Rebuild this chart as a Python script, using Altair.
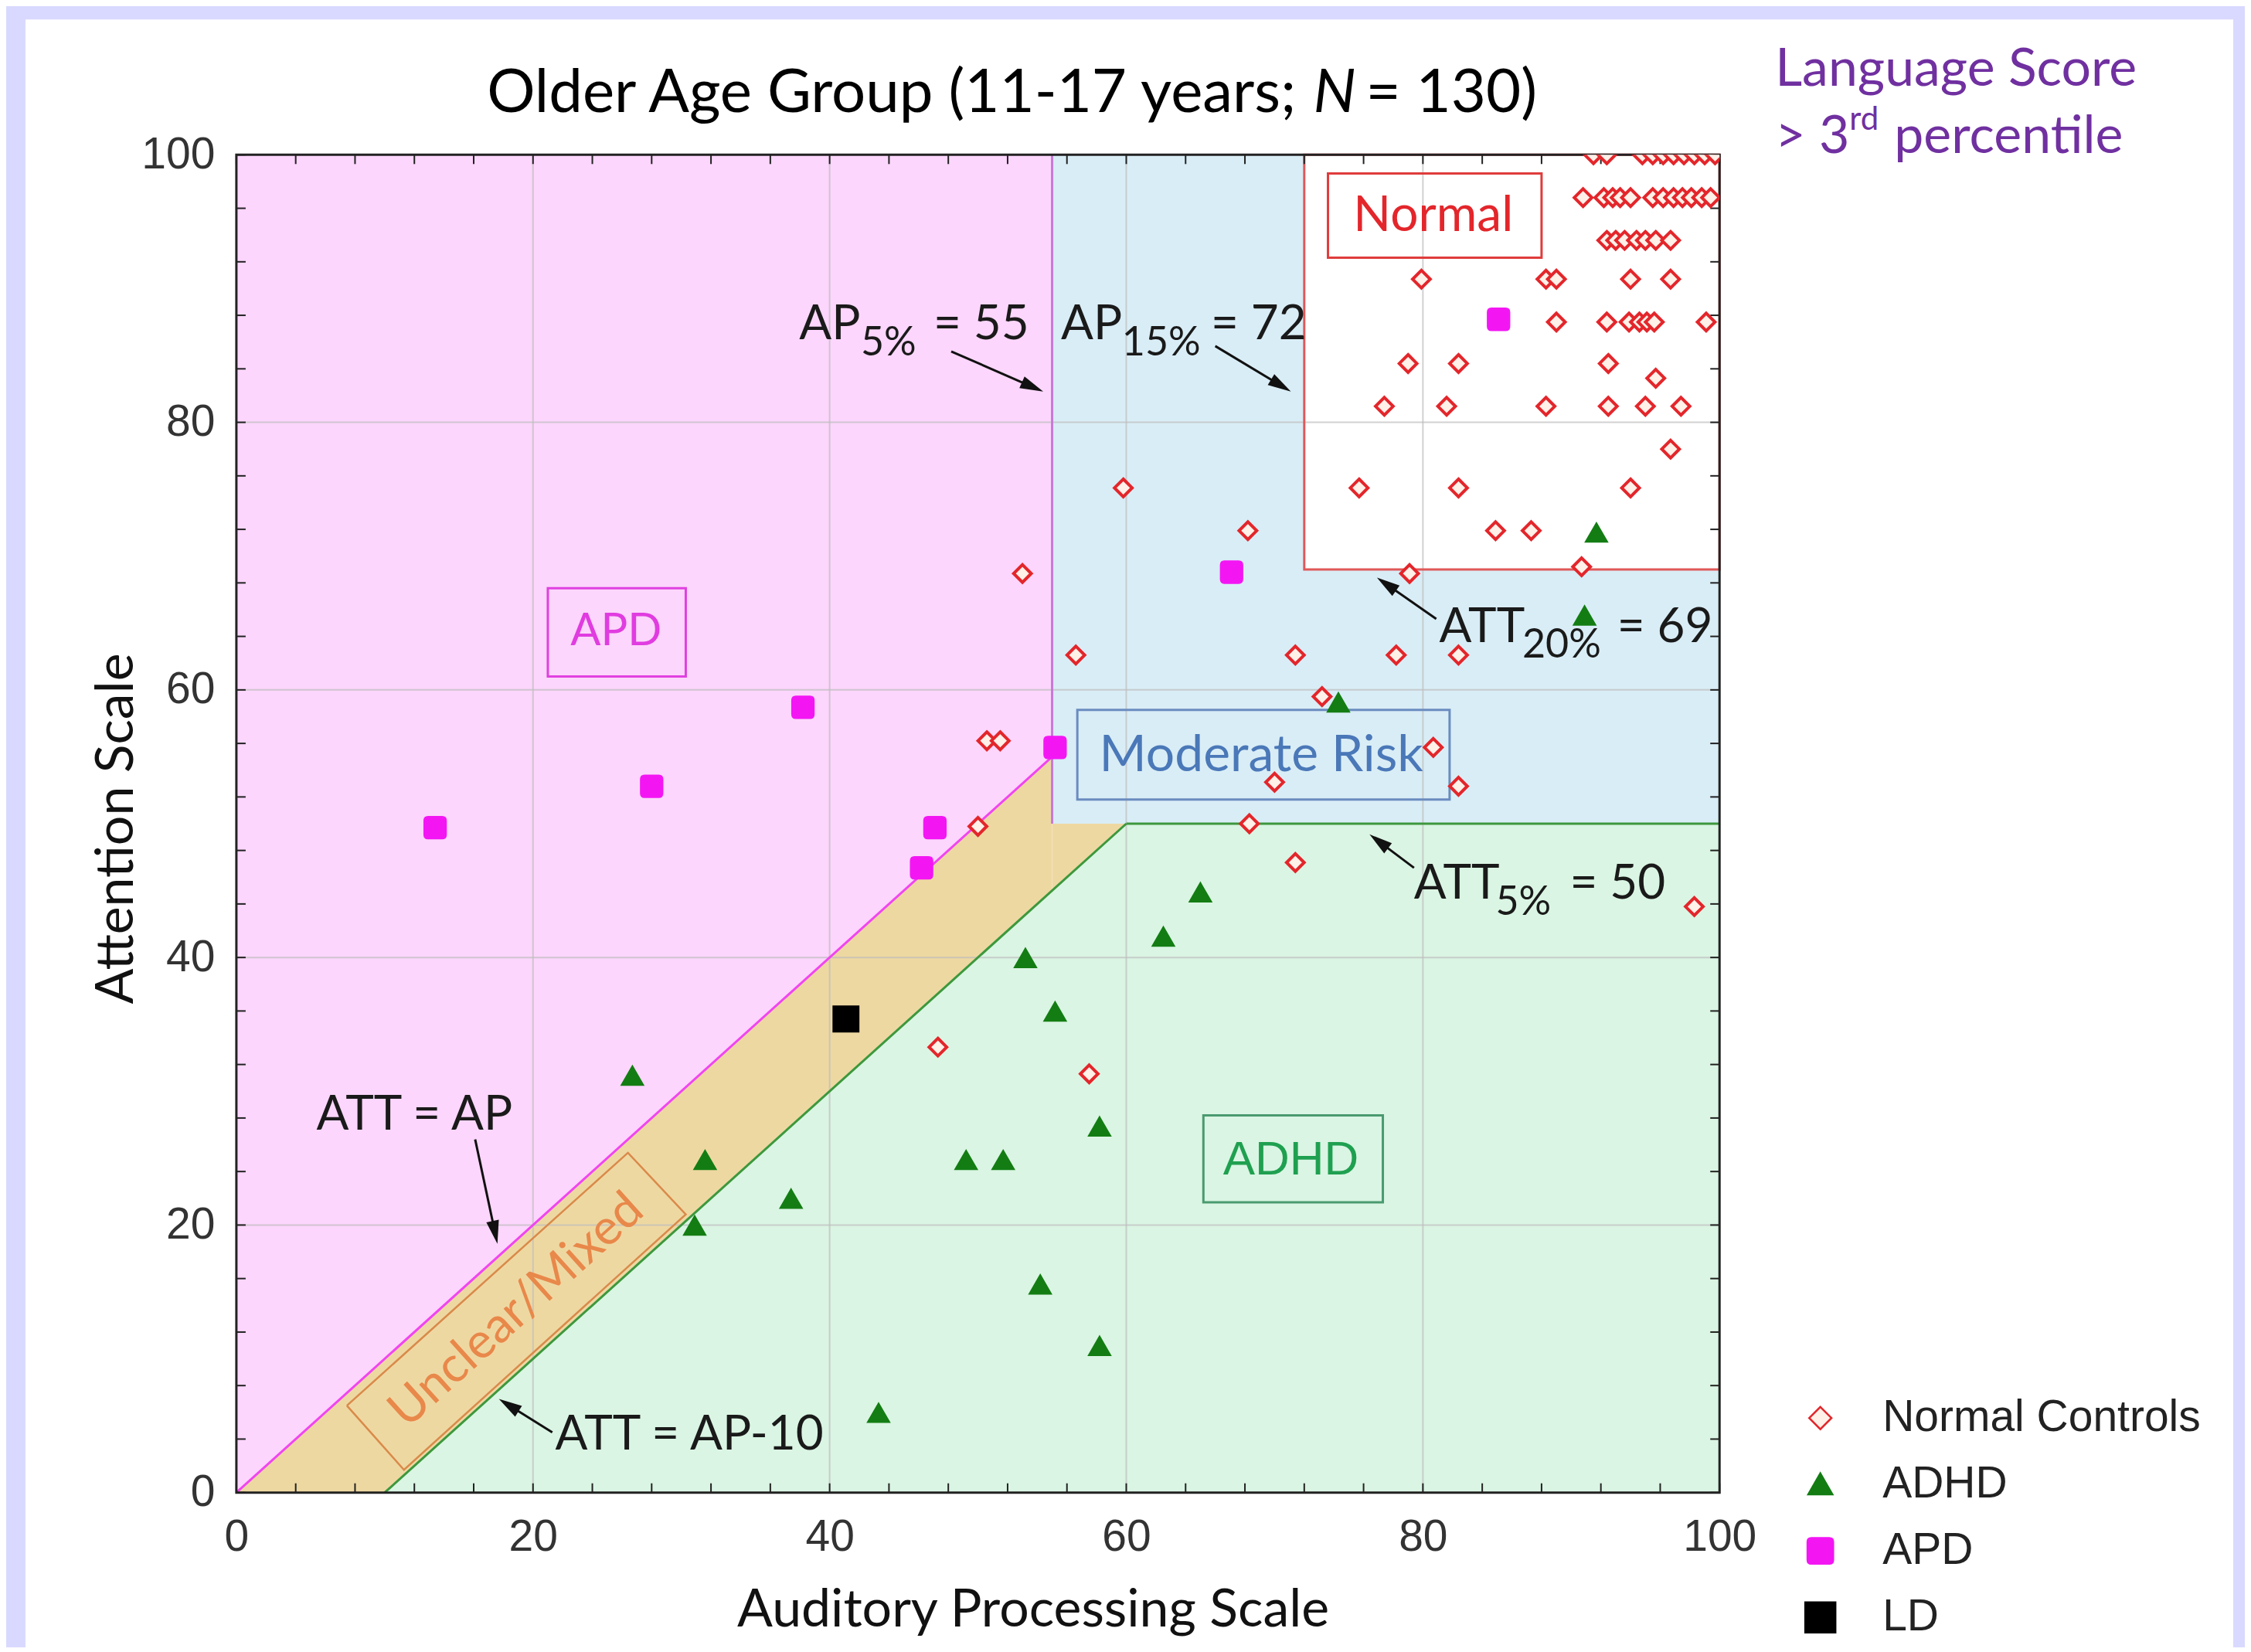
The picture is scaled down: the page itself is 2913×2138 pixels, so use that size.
import math
import altair as alt
import pandas as pd

W, H = 1920, 1732
PX = W / 100.0
PY = H / 100.0

# ---------------- data ----------------
groups = ["Normal Controls", "ADHD", "APD", "LD"]

normal_x = [91.5, 92.4, 94.8, 95.5, 96.2, 96.9, 97.6, 98.3, 99.0, 99.7,
            90.8, 92.2, 92.8, 93.3, 94.0, 95.5, 96.2, 96.9, 97.5, 98.1, 98.8, 99.4,
            92.4, 93.0, 93.6, 94.4, 95.0, 95.7, 96.7,
            79.9, 88.3, 89.0, 94.0, 96.7,
            89.0, 92.4, 93.9, 94.6, 95.1, 95.6, 99.1,
            79.0, 82.4, 92.5,
            95.7,
            77.4, 81.6, 88.3, 92.5, 95.0, 97.4,
            96.7,
            75.7, 82.4, 94.0,
            84.9, 87.3,
            90.7, 79.1,
            59.8, 68.2, 53.0, 56.6, 71.4, 78.2, 82.4, 73.2, 50.6, 51.5,
            80.7, 70.0, 82.4, 50.0, 68.3, 71.4, 98.3, 47.3, 57.5]
normal_y = [100, 100, 100, 100, 100, 100, 100, 100, 100, 100,
            96.8, 96.8, 96.8, 96.8, 96.8, 96.8, 96.8, 96.8, 96.8, 96.8, 96.8, 96.8,
            93.6, 93.6, 93.6, 93.6, 93.6, 93.6, 93.6,
            90.7, 90.7, 90.7, 90.7, 90.7,
            87.5, 87.5, 87.5, 87.5, 87.5, 87.5, 87.5,
            84.4, 84.4, 84.4,
            83.3,
            81.2, 81.2, 81.2, 81.2, 81.2, 81.2,
            78.0,
            75.1, 75.1, 75.1,
            71.9, 71.9,
            69.2, 68.7,
            75.1, 71.9, 68.7, 62.6, 62.6, 62.6, 62.6, 59.5, 56.2, 56.2,
            55.7, 53.1, 52.8, 49.8, 50.0, 47.1, 43.8, 33.3, 31.3]

adhd_x = [91.7, 90.9, 74.3, 65.0, 62.5, 53.2, 55.2, 58.2, 26.7, 31.6, 49.2,
          51.7, 37.4, 30.9, 54.2, 58.2, 43.3]
adhd_y = [71.7, 65.5, 59.0, 44.8, 41.5, 39.9, 35.9, 27.3, 31.1, 24.8, 24.8,
          24.8, 21.9, 19.9, 15.5, 10.9, 5.9]

apd_x = [13.4, 28.0, 38.2, 47.1, 46.2, 55.2, 67.1, 85.1]
apd_y = [49.7, 52.8, 58.7, 49.7, 46.7, 55.7, 68.8, 87.7]

ld_x = [41.1]
ld_y = [35.4]

# region boundaries (AP / ATT cut-offs)
ap5, ap15, att5, att20 = 55, 72, 50, 69

axis_labels = [0, 20, 40, 60, 80, 100]
grid_vals = [20, 40, 60, 80]
tick_vals = [0, 4, 8, 12, 16, 20, 24, 28, 32, 36, 40, 44, 48, 52, 56, 60,
             64, 68, 72, 76, 80, 84, 88, 92, 96, 100]

# annotations (data coordinates)
lab_main_text = ["AP", "= 55", "AP", "= 72", "ATT", "= 69", "ATT", "= 50",
                 "ATT = AP", "ATT = AP-10"]
lab_main_x = [37.95, 47.0, 55.6, 65.7, 81.1, 93.1, 79.4, 89.9, 5.4, 21.5]
lab_main_y = [86.2, 86.2, 86.2, 86.2, 63.6, 63.6, 44.4, 44.4, 27.1, 3.2]
lab_sub_text = ["5%", "15%", "20%", "5%"]
lab_sub_x = [42.1, 59.7, 86.7, 84.9]
lab_sub_y = [85.0, 85.0, 62.4, 43.2]

arr_x0 = [48.2, 66.0, 80.9, 79.4, 16.1, 21.3]
arr_y0 = [85.3, 85.7, 65.3, 46.7, 26.4, 4.5]
arr_x1 = [54.4, 71.1, 76.9, 76.4, 17.6, 17.7]
arr_y1 = [82.3, 82.3, 68.4, 49.2, 18.6, 7.0]

unclear_x = [7.45, 11.3, 30.3, 26.4, 7.45]
unclear_y = [6.5, 1.7, 20.8, 25.4, 6.5]

# ---------------- helpers ----------------
xs = alt.Scale(domain=[0, 100], nice=False, zero=False)
ys = alt.Scale(domain=[0, 100], nice=False, zero=False)
xaxis = alt.Axis(values=axis_labels, title="Auditory Processing Scale", grid=False,
                 domain=False, ticks=False, tickSize=0, labelFlush=False,
                 labelOverlap=False, labelFont="Liberation Sans", labelFontSize=57,
                 labelColor="#333333", labelPadding=30, titleFont="Lato",
                 titleFontSize=68, titleFontWeight="normal", titleColor="#111111",
                 titleX=1031, titleY=173, titleAlign="center", titleBaseline="alphabetic")
yaxis = alt.Axis(values=axis_labels, title="Attention Scale", grid=False,
                 domain=False, ticks=False, tickSize=0, labelFlush=False,
                 labelOverlap=False, labelFont="Liberation Sans", labelFontSize=57,
                 labelColor="#333333", labelPadding=28, titleFont="Lato",
                 titleFontSize=68, titleFontWeight="normal", titleColor="#111111",
                 titleX=-134, titleY=872, titleAlign="center", titleBaseline="alphabetic")


def X(f):
    return alt.X(f"{f}:Q", scale=xs, axis=xaxis)


def Y(f):
    return alt.Y(f"{f}:Q", scale=ys, axis=yaxis)


one = pd.DataFrame({"a": [0]})
layers = []

# lavender frame strips around the white panel
LAV = "#d9d9ff"
for x0, x1, y0, y1 in [(-320, 2620, -220, -175), (-320, -273, -220, 1950), (2585, 2620, -220, 1950)]:
    layers.append(alt.Chart(one).mark_rect(color=LAV).encode(
        x=alt.value(x0), x2=alt.value(x1), y=alt.value(y0), y2=alt.value(y1)))

# shaded regions (x-monotone pieces)
pink = pd.DataFrame({"x": [0, ap5], "lo": [0, ap5], "hi": [100, 100]})
tan_a = pd.DataFrame({"x": [0, 10, ap5], "lo": [0, 0, 45], "hi": [0, 10, ap5]})
tan_b = pd.DataFrame({"x": [ap5, 60], "lo": [45, att5], "hi": [att5, att5]})
green = pd.DataFrame({"x": [10, 60, 100], "lo": [0, 0, 0], "hi": [0, att5, att5]})
for df, col in [(pink, "#fcd6fc"), (tan_a, "#eed8a2"), (tan_b, "#eed8a2"), (green, "#daf5e3")]:
    layers.append(alt.Chart(df).mark_area(color=col, opacity=1, orient="vertical").encode(
        x=X("x"), y=Y("lo"), y2=alt.Y2("hi")))

rects = pd.DataFrame({"x": [ap5, ap15], "x2": [100, 100], "y": [att5, att20],
                      "y2": [100, 100], "col": ["#d9edf6", "#ffffff"]})
layers.append(alt.Chart(rects).mark_rect(opacity=1).encode(
    x=X("x"), x2="x2", y=Y("y"), y2="y2", color=alt.Color("col:N", scale=None)))

# gridlines
gdf = pd.DataFrame({"v": grid_vals})
layers.append(alt.Chart(gdf).mark_rule(color="#bdbdbd", strokeWidth=2, opacity=0.7).encode(
    x=X("v"), y=alt.value(0), y2=alt.value(H)))
layers.append(alt.Chart(gdf).mark_rule(color="#bdbdbd", strokeWidth=2, opacity=0.7).encode(
    y=Y("v"), x=alt.value(0), x2=alt.value(W)))

# boundary lines
segs = pd.DataFrame({"x": [0, ap5, 10, 60], "y": [0, att5, 0, att5],
                     "x2": [ap5, ap5, 60, 100], "y2": [ap5, 100, att5, att5],
                     "col": ["#f045f0", "#c57ad8", "#3d983d", "#3d983d"]})
layers.append(alt.Chart(segs).mark_rule(strokeWidth=3).encode(
    x=X("x"), y=Y("y"), x2="x2", y2="y2", color=alt.Color("col:N", scale=None)))

# label boxes
boxes = pd.DataFrame({"x": [72, 21.0, 73.6, 56.7, 65.2],
                      "x2": [100, 30.3, 88.0, 81.8, 77.3],
                      "y": [69, 61.0, 92.3, 51.8, 21.7],
                      "y2": [100, 67.6, 98.6, 58.5, 28.2],
                      "col": ["#e05858", "#e040e0", "#e03c3c", "#6a8cc0", "#4a9a70"]})
layers.append(alt.Chart(boxes).mark_rect(filled=False, strokeWidth=3).encode(
    x=X("x"), x2="x2", y=Y("y"), y2="y2", color=alt.Color("col:N", scale=None)))

udf = pd.DataFrame({"x": unclear_x, "y": unclear_y, "i": list(range(len(unclear_x)))})
layers.append(alt.Chart(udf).mark_line(color="#d98a4a", strokeWidth=2.5).encode(
    x=X("x"), y=Y("y"), order=alt.Order("i:Q")))


# box labels
def box_label(txt, x, y, col, fs, font="Lato", angle=0):
    d = pd.DataFrame({"t": [txt], "x": [x], "y": [y]})
    kw = dict(font=font, fontSize=fs, color=col, align="center", baseline="middle")
    if angle:
        kw["angle"] = angle
    return alt.Chart(d).mark_text(**kw).encode(x=X("x"), y=Y("y"), text="t:N")


layers.append(box_label("APD", 25.6, 64.3, "#e03ce0", 58))
layers.append(box_label("Normal", 80.7, 95.4, "#e3262b", 64))
layers.append(box_label("Moderate Risk", 69.1, 55.1, "#4a78b8", 66))
layers.append(box_label("ADHD", 71.1, 24.9, "#1fa050", 62, font="Liberation Sans"))
layers.append(box_label("Unclear/Mixed", 18.9, 13.6, "#e8884a", 64, angle=318))

# arrow annotation texts
mdf = pd.DataFrame({"t": lab_main_text, "x": lab_main_x, "y": lab_main_y})
layers.append(alt.Chart(mdf).mark_text(font="Lato", fontSize=62, color="#1a1a1a",
                                       align="left", baseline="alphabetic").encode(
    x=X("x"), y=Y("y"), text="t:N"))
sdf = pd.DataFrame({"t": lab_sub_text, "x": lab_sub_x, "y": lab_sub_y})
layers.append(alt.Chart(sdf).mark_text(font="Lato", fontSize=52, color="#1a1a1a",
                                       align="left", baseline="alphabetic").encode(
    x=X("x"), y=Y("y"), text="t:N"))

# arrows
HEAD = 900
hl = math.sqrt(HEAD) / 2.0
hx, hy, ang = [], [], []
for x0, y0, x1, y1 in zip(arr_x0, arr_y0, arr_x1, arr_y1):
    dxp = (x1 - x0) * PX
    dyp = -(y1 - y0) * PY
    L = math.hypot(dxp, dyp)
    ux, uy = dxp / L, dyp / L
    hx.append(x1 - ux * hl / PX)
    hy.append(y1 + uy * hl / PY)
    ang.append(math.degrees(math.atan2(dxp, -dyp)) % 360)
adf = pd.DataFrame({"x": arr_x0, "y": arr_y0, "hx": hx, "hy": hy, "ang": ang})
layers.append(alt.Chart(adf).mark_rule(color="#111111", strokeWidth=3).encode(
    x=X("x"), y=Y("y"), x2="hx", y2="hy"))
layers.append(alt.Chart(adf).mark_point(shape="M0,-1L0.55,1L-0.55,1Z", filled=True,
                                        color="#111111", size=HEAD, opacity=1).encode(
    x=X("hx"), y=Y("hy"), angle=alt.Angle("ang:Q", scale=None)))

# inward ticks
tdf = pd.DataFrame({"v": tick_vals})
TL = 12
layers.append(alt.Chart(tdf).mark_rule(color="#222222", strokeWidth=2).encode(
    x=X("v"), y=alt.value(H), y2=alt.value(H - TL)))
layers.append(alt.Chart(tdf).mark_rule(color="#222222", strokeWidth=2).encode(
    x=X("v"), y=alt.value(0), y2=alt.value(TL)))
layers.append(alt.Chart(tdf).mark_rule(color="#222222", strokeWidth=2).encode(
    y=Y("v"), x=alt.value(0), x2=alt.value(TL)))
layers.append(alt.Chart(tdf).mark_rule(color="#222222", strokeWidth=2).encode(
    y=Y("v"), x=alt.value(W), x2=alt.value(W - TL)))

# frame
fdf = pd.DataFrame({"x": [0], "x2": [100], "y": [0], "y2": [100]})
layers.append(alt.Chart(fdf).mark_rect(filled=False, stroke="#222222", strokeWidth=3).encode(
    x=X("x"), x2="x2", y=Y("y"), y2="y2"))

# points
pts = pd.DataFrame({
    "x": normal_x + adhd_x + apd_x + ld_x,
    "y": normal_y + adhd_y + apd_y + ld_y,
    "g": ([groups[0]] * len(normal_x) + [groups[1]] * len(adhd_x)
          + [groups[2]] * len(apd_x) + [groups[3]] * len(ld_x)),
})
DIAMOND = "M0,-0.85L0.85,0L0,0.85L-0.85,0Z"
TRIANGLE = "M0,-0.85L0.92,0.75L-0.92,0.75Z"
ROUND_SQ = ("M-0.68,-0.98L0.68,-0.98Q0.98,-0.98 0.98,-0.68L0.98,0.68Q0.98,0.98 0.68,0.98"
            "L-0.68,0.98Q-0.98,0.98 -0.98,0.68L-0.98,-0.68Q-0.98,-0.98 -0.68,-0.98Z")
BIG_SQ = "M-1.15,-1.15L1.15,-1.15L1.15,1.15L-1.15,1.15Z"
leg = alt.Legend(orient="none", legendX=2022, legendY=1607, labelFont="Liberation Sans",
                 labelFontSize=57, labelColor="#222222", labelLimit=800, symbolSize=1150,
                 symbolStrokeWidth=2.5, rowPadding=28, labelOffset=52, padding=0)
layers.append(alt.Chart(pts).mark_point(filled=True, strokeWidth=4, opacity=1, clip=True,
                                        size=720).encode(
    x=X("x"), y=Y("y"),
    shape=alt.Shape("g:N", title=None, legend=leg,
                    scale=alt.Scale(domain=groups,
                                    range=[DIAMOND, TRIANGLE, ROUND_SQ, BIG_SQ])),
    fill=alt.Fill("g:N", title=None, legend=leg,
                  scale=alt.Scale(domain=groups,
                                  range=["#fff0e8", "#137d13", "#f316f3", "#000000"])),
    stroke=alt.Stroke("g:N", title=None, legend=leg,
                      scale=alt.Scale(domain=groups,
                                      range=["#e3262b", "#137d13", "#f316f3", "#000000"])),
))


# title pieces (pixel positions relative to plot area)
def ptext(txt, x, y, fs, col, align="left", style="normal"):
    return alt.Chart(one).mark_text(text=txt, font="Lato", fontSize=fs, color=col,
                                    align=align, baseline="alphabetic",
                                    fontStyle=style).encode(x=alt.value(x), y=alt.value(y))


layers.append(ptext("Older Age Group (11-17 years;", 1372, -55, 78, "#000000", align="right"))
layers.append(ptext("N", 1394, -55, 78, "#000000", style="italic"))
layers.append(ptext("= 130)", 1462, -55, 78, "#000000"))
layers.append(ptext("Language Score", 1992, -89, 68, "#7030a0"))
layers.append(ptext("> 3", 1992, -2, 68, "#7030a0"))
layers.append(ptext("rd", 2088, -32, 42, "#7030a0"))
layers.append(ptext("percentile", 2146, -2, 68, "#7030a0"))

chart = alt.layer(*layers).properties(
    width=W, height=H,
    autosize=alt.AutoSizeParams(type="none"),
    padding={"left": 298, "top": 192, "right": 680, "bottom": 200},
).configure(background="white").configure_view(strokeWidth=0)

chart.save("out.html", embed_options={"renderer": "svg", "actions": False})
